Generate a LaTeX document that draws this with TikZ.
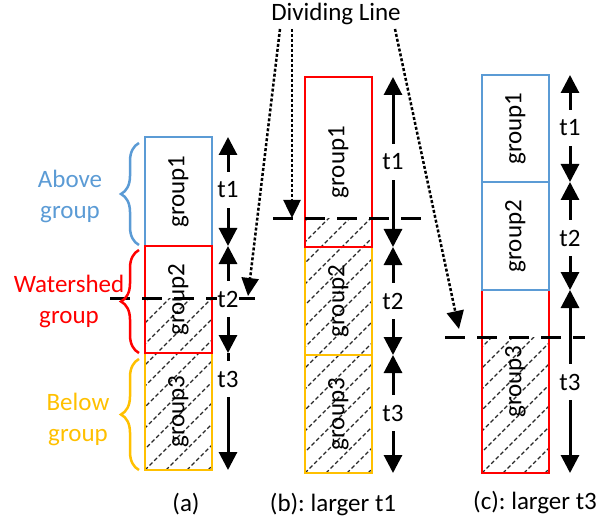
\documentclass[tikz,border=0pt]{standalone}
\usepackage{fontspec}
\setmainfont{Carlito}
\usetikzlibrary{arrows.meta,decorations.pathreplacing}
\definecolor{cblue}{RGB}{91,155,213}
\definecolor{cred}{RGB}{255,0,0}
\definecolor{cyel}{RGB}{255,192,0}
\definecolor{hatchgray}{RGB}{40,40,40}
\newcommand\hatchbox[4]{%
  \begin{scope}
    \clip (#1,#2) rectangle (#3,#4);
    \foreach \k in {-252,-231,...,100} \draw[hatch] ({#1+\k},#4) -- ++(260,-260);
  \end{scope}}
\frenchspacing
\begin{document}
\begin{tikzpicture}[x=1bp,y=-1bp,
  font=\fontsize{25bp}{31bp}\selectfont,
  box/.style={draw, line width=2bp, rotate=90, inner sep=0, minimum height=67bp},
  tlab/.style={inner sep=0, minimum height=36bp, fill=white},
  tarr/.style={line width=3bp, -{Triangle[width=18bp,length=18bp]}},
  tline/.style={line width=3bp},
  divline/.style={line width=3bp, dash pattern=on 20bp off 12bp},
  dotarr/.style={line width=2.5bp, dash pattern=on 3bp off 2bp, -{Triangle[width=17bp,length=18bp]}},
  hatch/.style={draw=hatchgray, line width=1.1bp, dash pattern=on 4bp off 2.5bp},
  brc/.style={decorate, decoration={brace, amplitude=18bp}, line width=2.5bp},
]
\useasboundingbox (0,0) rectangle (600,531);

% hatching
\hatchbox{145}{298}{212}{470}
\hatchbox{305}{219}{372}{473}
\hatchbox{482}{337}{549}{473}

% panel (a) boxes
\node[box, draw=cblue, minimum width=109bp] (a1) at (178.5,191.5) {group1};
\node[box, draw=cyel, minimum width=117bp] (a3) at (178.5,411.5) {group3};
\node[box, draw=cred, minimum width=107bp] (a2) at (178.5,299.5) {group2};

% panel (b) boxes
\node[box, draw=cyel, minimum width=108bp] (b2) at (338.5,301) {group2};
\node[box, draw=cyel, minimum width=118bp] (b3) at (338.5,414) {group3};
\node[box, draw=cred, minimum width=170bp] (b1) at (338.5,162) {group1};

% panel (c) boxes
\node[box, draw=cred, minimum width=183bp] (c3) at (515.5,381.5) {group3};
\node[box, draw=cblue, minimum width=107bp] (c1) at (515.5,128.5) {group1};
\node[box, draw=cblue, minimum width=108bp] (c2) at (515.5,236) {group2};

% dividing lines
\coordinate (dla) at (110,298); \coordinate (dlaE) at (255,298);
\coordinate (dlb) at (273,219); \coordinate (dlbE) at (422,219);
\coordinate (dlc) at (445,337); \coordinate (dlcE) at (585,337);
\draw[divline] (dla) -- (dlaE);
\draw[divline] (dlb) -- (dlbE);
\draw[divline] (dlc) -- (dlcE);

% braces and group texts
\draw[brc, cblue] (139,245) -- (139,143);
\draw[brc, cred] (139,353) -- (139,250);
\draw[brc, cyel] (139,470) -- (139,359);
\node[text=cblue, align=center, inner sep=0] (above) at (70,196) {Above\\group};
\node[text=cred, align=center, inner sep=0] (water) at (69,301) {Watershed\\group};
\node[text=cyel, align=center, inner sep=0] (below) at (78,419) {Below\\group};

% t arrows (a)
\coordinate (a1t) at (228,137); \coordinate (a1b) at (228,246);
\coordinate (a2b) at (228,353); \coordinate (a3b) at (228,470);
\node[tlab] (at1) at (228,190) {t1};
\node[tlab] (at2) at (228,299) {t2};
\node[tlab] (at3) at (228,379) {t3};
\draw[tarr] (at1) -- (a1t); \draw[tarr] (at1) -- (a1b);
\draw[tarr] (at2) -- (a1b); \draw[tarr] (at2) -- (a2b);
\draw[tline] (at3) -- (a2b); \draw[tarr] (at3) -- (a3b);

% t arrows (b)
\coordinate (b1t) at (393,77); \coordinate (b1b) at (393,247);
\coordinate (b2b) at (393,355); \coordinate (b3b) at (393,473);
\node[tlab] (bt1) at (393,162) {t1};
\node[tlab] (bt2) at (393,301) {t2};
\node[tlab] (bt3) at (393,413) {t3};
\draw[tarr] (bt1) -- (b1t); \draw[tarr] (bt1) -- (b1b);
\draw[tarr] (bt2) -- (b1b); \draw[tarr] (bt2) -- (b2b);
\draw[tarr] (bt3) -- (b2b); \draw[tarr] (bt3) -- (b3b);

% t arrows (c)
\coordinate (c1t) at (570,75); \coordinate (c1b) at (570,182);
\coordinate (c2b) at (570,290); \coordinate (c3b) at (570,473);
\node[tlab] (ct1) at (570,128) {t1};
\node[tlab] (ct2) at (570,238) {t2};
\node[tlab] (ct3) at (570,382) {t3};
\draw[tarr] (ct1) -- (c1t); \draw[tarr] (ct1) -- (c1b);
\draw[tarr] (ct2) -- (c1b); \draw[tarr] (ct2) -- (c2b);
\draw[tarr] (ct3) -- (c2b); \draw[tarr] (ct3) -- (c3b);

% Dividing Line label and dotted arrows
\node[inner sep=0] (dl) at (336,14) {Dividing Line};
\coordinate (s1) at (280,29); \coordinate (s2) at (292,29); \coordinate (s3) at (395,29);
\coordinate (e1) at (248,296); \coordinate (e2) at (292,218); \coordinate (e3) at (459,329);
\draw[dotarr] (s1) -- (e1);
\draw[dotarr] (s2) -- (e2);
\draw[dotarr] (s3) -- (e3);

% captions
\node[anchor=base, inner sep=0] (capa) at (186,511) {(a)};
\node[anchor=base, inner sep=0] (capb) at (333,511) {(b): larger t1};
\node[anchor=base, inner sep=0] (capc) at (535,509) {(c): larger t3};
\end{tikzpicture}
\end{document}
